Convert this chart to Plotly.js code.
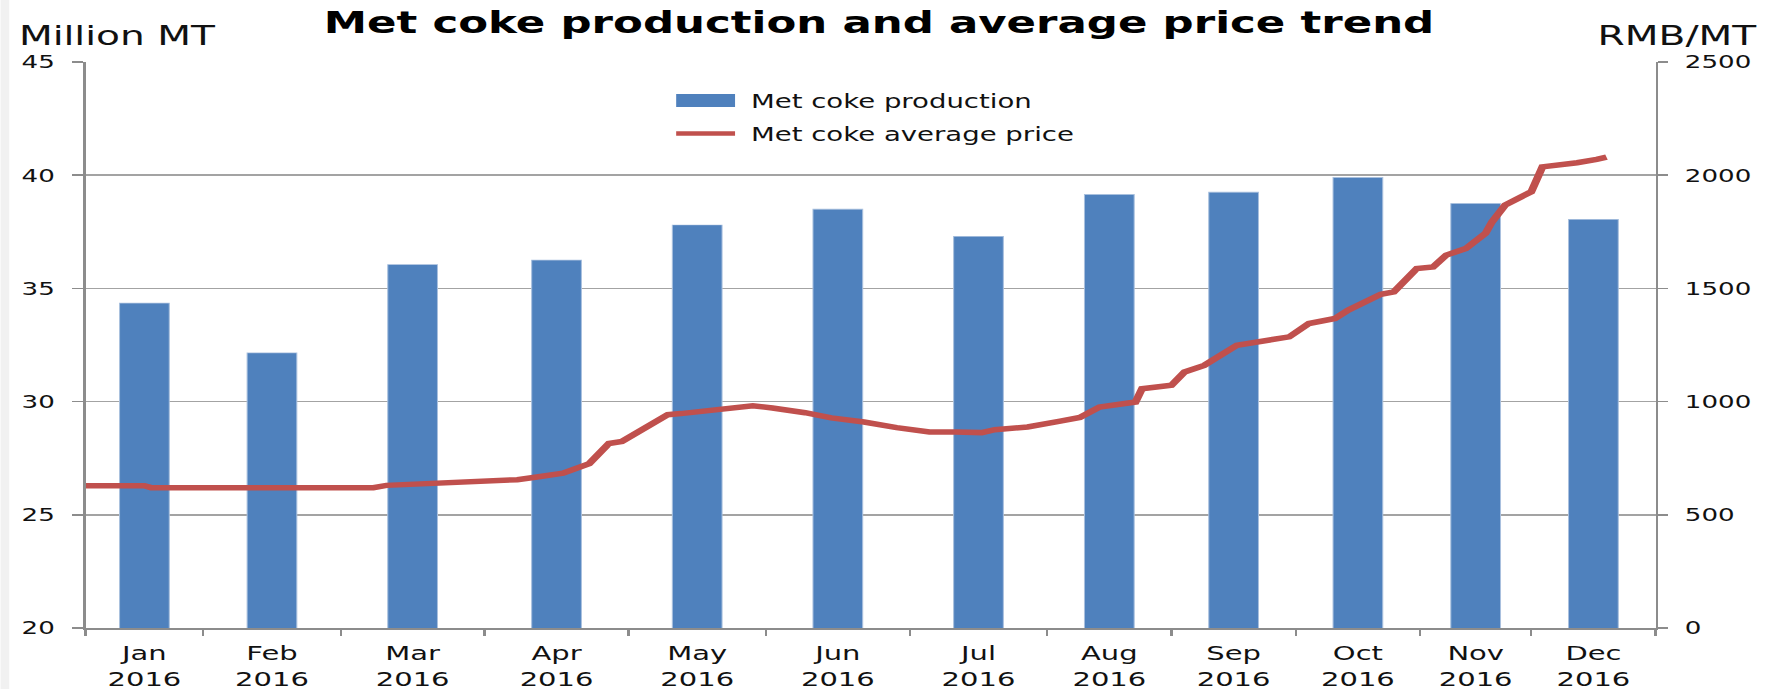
<!DOCTYPE html>
<html><head><meta charset="utf-8">
<script src="https://cdn.plot.ly/plotly-3.0.1.min.js"></script>
<style>
html,body{margin:0;padding:0;background:#fff;overflow:hidden;width:1773px;height:689px;}
#wrap{width:1773px;height:689px;overflow:hidden;}
#chart{width:1223px;height:689px;transform:scaleX(1.4497);transform-origin:0 0;}
</style></head><body><div id="wrap"><div id="chart"></div></div>
<script>
// ---- data ----
const monthNames = ['Jan','Feb','Mar','Apr','May','Jun','Jul','Aug','Sep','Oct','Nov','Dec'];
const yearLabel = '2016';
// trading days (observations) in each month, which sets the month widths on the axis
const tradingDays = [18,21,22,22,21,22,21,19,19,19,17,19];
// Met coke production, million MT
const production = [34.35,32.15,36.05,36.25,37.8,38.5,37.3,39.15,39.25,39.9,38.75,38.05];
// Met coke average price, RMB/MT, at trading-day index
const priceDay = [0,9,10,44,46,51,58,63,66,69,73,77,80,82,84,89,91,96,100,102,105,110,114,119,124,129,133,137,139,144,149,152,155,160.5,161.5,166,168,171,176,179,184,187,191,193,198,200,203.5,206,208,211,214,215,217,219.5,221,222.7,226,228,231,232.5];
const price    = [628,628,620,620,630,637,643,649,655,667,684,726,815,824,858,942,947,965,976,982,972,951,928,910,885,866,866,863,876,888,914,930,976,998,1057,1072,1131,1160,1249,1264,1286,1345,1367,1404,1474,1485,1588,1595,1647,1676,1743,1794,1868,1905,1927,2037,2045,2055,2070,2080];

const seriesNames = ['Met coke production','Met coke average price'];
const titleText = 'Met coke production and average price trend';
const leftUnit = 'Million MT';
const rightUnit = 'RMB/MT';

// ---- derived positions ----
const bounds = [0];
tradingDays.forEach(d => bounds.push(bounds[bounds.length-1] + d));
const centers = tradingDays.map((d,i) => bounds[i] + d/2);
const total = bounds[bounds.length-1];
const tickText = monthNames.map(m => m + '<br>' + yearLabel);

const FONT = 'DejaVu Sans, Verdana, sans-serif';
const GRID = '#A3A3A3';
const AXIS = '#8C8C8C';
const TXT = '#111111';

const bars = {
  type:'bar', x:centers, y:production, width:7.6, name:seriesNames[0],
  marker:{color:'#4F81BD', line:{color:'#A9C0DE', width:0.7}},
  xaxis:'x', yaxis:'y', showlegend:false, hoverinfo:'skip'
};
const line = {
  type:'scatter', mode:'lines', x:priceDay, y:price, name:seriesNames[1],
  line:{color:'#C0504D', width:5.5},
  xaxis:'x2', yaxis:'y2', showlegend:false, hoverinfo:'skip'
};

const layout = {
  width:1223, height:689,
  margin:{l:59, r:81, t:62, b:61, pad:0},
  paper_bgcolor:'#ffffff', plot_bgcolor:'#ffffff',
  font:{family:FONT, color:TXT},
  title:{text:titleText, font:{family:FONT, size:30, weight:'bold', color:'#000'},
         x:0.5054, xref:'paper', xanchor:'center', y:1-23/689, yref:'container', yanchor:'middle'},
  bargap:0,
  xaxis:{range:[0,total], tickvals:centers, ticktext:tickText, ticks:'', showgrid:false,
         zeroline:false, showline:true, linecolor:AXIS, linewidth:1.6,
         tickfont:{family:FONT, size:20, color:TXT}, ticklabelstandoff:6, fixedrange:true},
  xaxis2:{range:[0,total], overlaying:'x', anchor:'y2', side:'bottom', tickvals:bounds,
          ticktext:bounds.map(()=>''), ticks:'outside', ticklen:7, tickwidth:1.6, tickcolor:AXIS,
          showgrid:false, zeroline:false, showline:false, fixedrange:true},
  yaxis:{range:[20,45], tickvals:[20,25,30,35,40,45], ticks:'outside', ticklen:8, tickwidth:1.6,
         tickcolor:AXIS, showgrid:true, gridcolor:GRID, gridwidth:1.6, zeroline:false,
         showline:true, linecolor:AXIS, linewidth:1.6, tickfont:{family:FONT, size:18, color:TXT},
         ticklabelstandoff:8, fixedrange:true},
  yaxis2:{range:[0,2500], tickvals:[0,500,1000,1500,2000,2500], overlaying:'y', side:'right',
          anchor:'x2', ticks:'outside', ticklen:7, tickwidth:1.6, tickcolor:AXIS, showgrid:false,
          zeroline:false, showline:true, linecolor:AXIS, linewidth:1.6,
          tickfont:{family:FONT, size:18, color:TXT}, ticklabelstandoff:8, fixedrange:true},
  shapes:[
    {type:'rect', xref:'paper', yref:'paper', x0:-0.0541, x1:-0.0486, y0:-0.11, y1:1.11,
     fillcolor:'#F1F1F1', line:{width:0}, layer:'below'},
    {type:'rect', xref:'paper', yref:'paper', x0:0.3762, x1:0.4137, y0:0.9204, y1:0.9434,
     fillcolor:'#4F81BD', line:{width:0}},
    {type:'line', xref:'paper', yref:'paper', x0:0.3762, x1:0.4137, y0:0.8736, y1:0.8736,
     line:{color:'#C0504D', width:4.5}}
  ],
  annotations:[
    {text:seriesNames[0], xref:'paper', yref:'paper', x:0.422, y:0.9319, xanchor:'left', yanchor:'middle',
     showarrow:false, font:{family:FONT, size:19, color:TXT}},
    {text:seriesNames[1], xref:'paper', yref:'paper', x:0.422, y:0.8736, xanchor:'left', yanchor:'middle',
     showarrow:false, font:{family:FONT, size:19, color:TXT}},
    {text:leftUnit, xref:'paper', yref:'paper', x:-0.0445, y:1.0465, xanchor:'left', yanchor:'middle',
     showarrow:false, font:{family:FONT, size:27, color:TXT}},
    {text:rightUnit, xref:'paper', yref:'paper', x:1.0662, y:1.0465, xanchor:'right', yanchor:'middle',
     showarrow:false, font:{family:FONT, size:27, color:TXT}}
  ]
};

Plotly.newPlot('chart', [bars, line], layout, {displayModeBar:false, staticPlot:true});
</script></body></html>
